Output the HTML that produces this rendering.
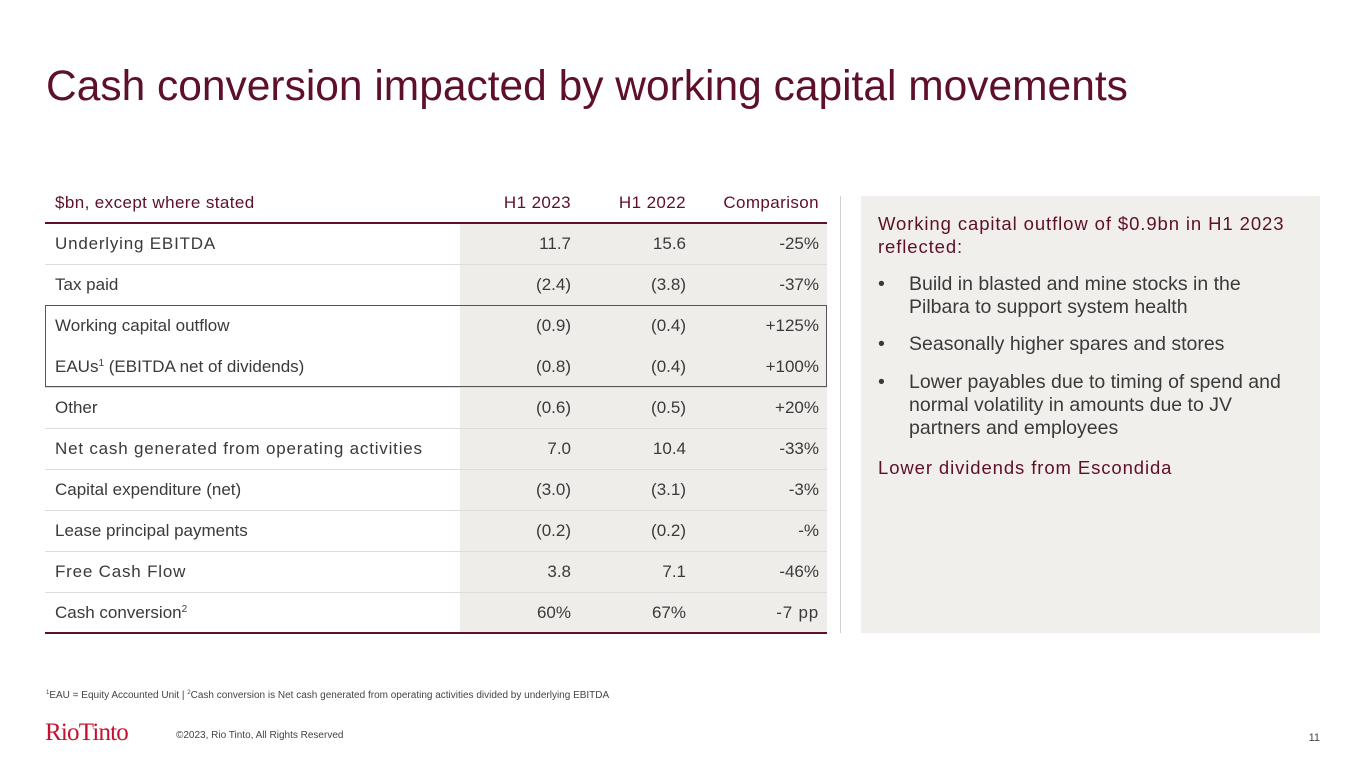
<!DOCTYPE html>
<html><head><meta charset="utf-8">
<style>
body{margin:0;width:1365px;height:768px;position:relative;background:#fff;font-family:"Liberation Sans",sans-serif;overflow:hidden;color:#3a3a3a}
.a{position:absolute;white-space:nowrap}
.title{left:46px;top:63px;font-size:42.5px;color:#5e0f2a}
.shade{left:460px;top:223px;width:367px;height:410px;background:#efedea}
.hd{top:193px;font-size:17px;color:#5e0f2a;letter-spacing:0.4px}
.row{left:45px;width:782px;height:41px;border-bottom:1px solid #dcdcdc}
.cell{font-size:17px;line-height:41px}
.r{text-align:right}
.ls{letter-spacing:0.8px}
sup{line-height:0;font-size:10px;vertical-align:6px}
.panel{left:861px;top:196px;width:459px;height:437px;background:#f1efec}
.pt{font-size:19.5px;line-height:23px}
</style></head><body>
<div class="a title">Cash conversion impacted by working capital movements</div>

<div class="a shade"></div>

<div class="a hd" style="left:55px">$bn, except where stated</div>
<div class="a hd" style="left:471px;width:100px;text-align:right">H1 2023</div>
<div class="a hd" style="left:586px;width:100px;text-align:right">H1 2022</div>
<div class="a hd" style="left:690px;width:129px;text-align:right">Comparison</div>
<div class="a" style="left:45px;top:222px;width:782px;height:2px;background:#5e0f2a"></div>

<div id="tbl"></div>

<div class="a" style="left:45px;top:305px;width:780px;height:80px;border:1px solid #555"></div>
<div class="a" style="left:45px;top:632px;width:782px;height:2px;background:#5e0f2a"></div>

<div class="a" style="left:840px;top:196px;width:1px;height:437px;background:#d0d0d0"></div>

<div class="a panel"></div>
<div class="a" style="left:878px;top:212px;font-size:18.5px;line-height:23px;color:#5e0f2a;letter-spacing:0.9px;white-space:normal;width:435px">Working capital outflow of $0.9bn in H1 2023 reflected:</div>
<div class="a pt" style="left:878px;top:273px">•</div>
<div class="a pt" style="left:909px;top:273px">Build in blasted and mine stocks in the<br>Pilbara to support system health</div>
<div class="a pt" style="left:878px;top:333px">•</div>
<div class="a pt" style="left:909px;top:333px">Seasonally higher spares and stores</div>
<div class="a pt" style="left:878px;top:371px">•</div>
<div class="a pt" style="left:909px;top:371px">Lower payables due to timing of spend and<br>normal volatility in amounts due to JV<br>partners and employees</div>
<div class="a" style="left:878px;top:456px;font-size:18.5px;line-height:23px;color:#5e0f2a;letter-spacing:0.9px">Lower dividends from Escondida</div>

<div class="a" style="left:46px;top:690px;font-size:10px;color:#444"><sup style="font-size:6px;vertical-align:4px">1</sup>EAU = Equity Accounted Unit | <sup style="font-size:6px;vertical-align:4px">2</sup>Cash conversion is Net cash generated from operating activities divided by underlying EBITDA</div>
<div class="a" style="left:45px;top:719px;font-family:'Liberation Serif',serif;font-size:25px;color:#c8102e;letter-spacing:-0.8px">RioTinto</div>
<div class="a" style="left:176px;top:730px;font-size:10px;color:#444">©2023, Rio Tinto, All Rights Reserved</div>
<div class="a" style="left:1295px;top:732px;font-size:11px;color:#444;width:25px;text-align:right">11</div>

<script>
const labels=["Underlying EBITDA","Tax paid","Working capital outflow","EAUs<sup>1</sup> (EBITDA net of dividends)","Other","Net cash generated from operating activities","Capital expenditure (net)","Lease principal payments","Free Cash Flow","Cash conversion<sup>2</sup>"];
const h12023=["11.7","(2.4)","(0.9)","(0.8)","(0.6)","7.0","(3.0)","(0.2)","3.8","60%"];
const h12022=["15.6","(3.8)","(0.4)","(0.4)","(0.5)","10.4","(3.1)","(0.2)","7.1","67%"];
const comparison=["-25%","-37%","+125%","+100%","+20%","-33%","-3%","-%","-46%","-7 pp"];
const spaced=[true,false,false,false,false,true,false,false,true,false];
const tbl=document.getElementById('tbl');
labels.forEach((lab,i)=>{
  const top=223+i*41;
  const row=document.createElement('div');
  row.className='a row';
  row.style.top=top+'px';
  if(i===2||i===9) row.style.borderBottom='none';
  
  
  tbl.appendChild(row);
  const mk=(html,left,w,right,ls,name)=>{
    const c=document.createElement('div');
    c.className='a cell'+(right?' r':'')+(ls?' ls':'');
    c.style.left=left+'px';c.style.top=top+'px';
    if(w) c.style.width=w+'px';
    if(i===9&&right&&name==='comparison-cell') c.style.letterSpacing='0.8px';
    c.innerHTML=html;
    
    
    tbl.appendChild(c);
  };
  mk(lab,55,0,false,spaced[i],'row-label');
  mk(h12023[i],471,100,true,false,'h1-2023-cell');
  mk(h12022[i],586,100,true,false,'h1-2022-cell');
  mk(comparison[i],690,129,true,false,'comparison-cell');
});
</script>
</body></html>
